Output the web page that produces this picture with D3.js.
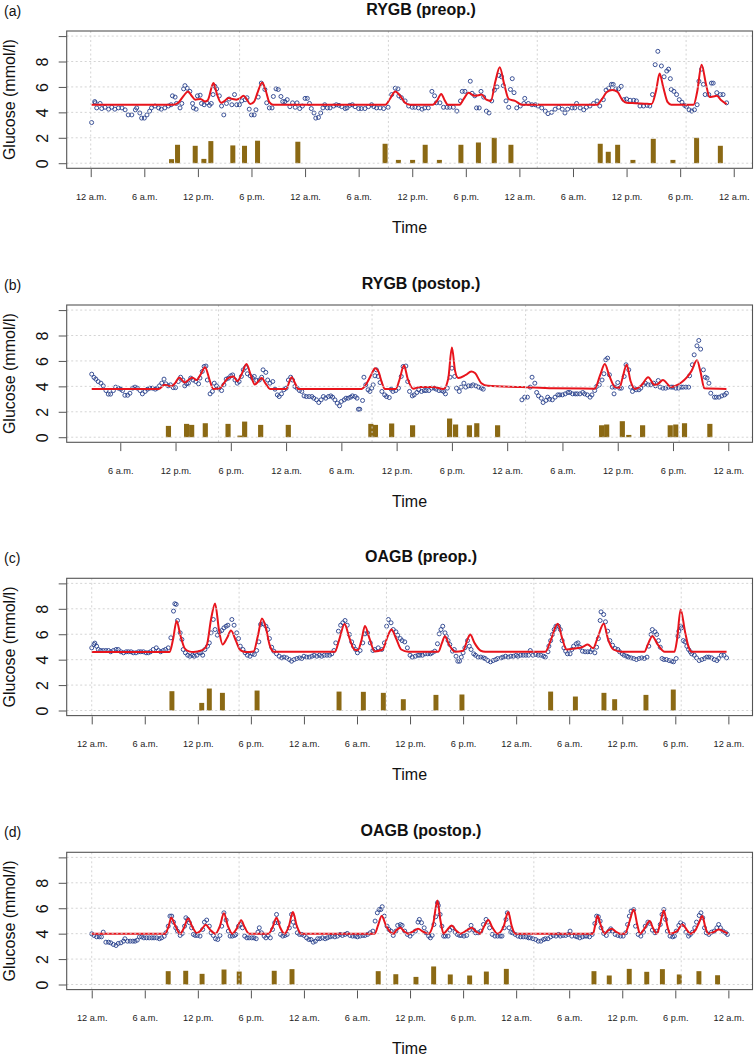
<!DOCTYPE html>
<html><head><meta charset="utf-8">
<script src="https://cdn.jsdelivr.net/npm/d3@7"></script>
<style>
body{margin:0;background:#fff;}
svg{display:block;font-family:"Liberation Sans",Arial,Helvetica,sans-serif;}
</style>
</head><body>
<svg id="chart" width="755" height="1056"></svg>
<script>
// ---------------- DATA ----------------
const panelLabels = ["(a)", "(b)", "(c)", "(d)"];
const panelTitles = ["RYGB (preop.)", "RYGB (postop.)", "OAGB (preop.)", "OAGB (postop.)"];
const tickText = ["12 a.m.", "6 a.m.", "12 p.m.", "6 p.m."];
const ticksFull = [0, 6, 12, 18, 24, 30, 36, 42, 48, 54, 60, 66, 72];
const ticksLate = [6, 12, 18, 24, 30, 36, 42, 48, 54, 60, 66, 72];
const yTicks = [0, 2, 4, 6, 8, 10];
const gridHours = [0, 16.667, 33.333, 50, 66.667];

// glucose readings [hour, mmol/l]
const glucoseA = [[0.1,3.2],[0.45,4.85],[0.5,4.75],[0.67,4.35],[1.05,4.7],[1.23,4.3],[1.6,4.4],[2.0,4.25],[2.35,4.4],[2.7,4.25],[3.1,4.35],[3.5,4.35],[3.85,4.2],[4.2,3.8],[4.6,3.8],[5.0,4.2],[5.15,4.35],[5.5,3.95],[5.7,3.55],[6.0,3.55],[6.3,3.8],[6.6,4.1],[6.8,4.35],[7.2,4.5],[7.6,4.35],[7.9,4.25],[8.3,4.35],[8.7,4.5],[9.0,4.6],[9.15,5.3],[9.45,5.2],[9.6,4.7],[10.0,4.35],[10.2,4.7],[10.4,5.85],[10.55,6.1],[10.8,5.9],[11.1,5.65],[11.4,4.7],[11.5,4.35],[11.8,4.25],[11.95,5.3],[12.25,5.35],[12.4,4.7],[12.7,4.6],[13.0,4.75],[13.3,4.55],[13.5,4.7],[13.7,5.4],[13.9,6.05],[14.1,5.85],[14.4,5.3],[14.65,4.5],[14.9,3.8],[15.2,4.7],[15.5,5.05],[15.8,4.6],[16.1,5.4],[16.35,4.6],[16.65,4.6],[16.9,4.9],[17.3,5.0],[17.5,5.15],[17.75,4.25],[18.0,3.8],[18.3,3.8],[18.5,4.2],[18.75,5.2],[19.1,6.3],[19.5,5.8],[19.7,4.75],[20.0,4.35],[20.3,4.35],[20.45,5.25],[20.75,5.85],[21.0,5.8],[21.3,5.25],[21.5,4.85],[21.75,4.85],[22.0,5.0],[22.3,4.45],[22.6,4.75],[22.9,4.4],[23.1,4.75],[23.4,4.3],[23.7,4.5],[24.0,5.1],[24.25,5.1],[24.5,4.7],[24.7,4.3],[25.0,3.95],[25.2,3.55],[25.5,3.6],[25.75,3.95],[26.0,4.35],[26.2,4.6],[26.5,4.35],[26.8,4.35],[27.2,4.5],[27.5,4.6],[27.8,4.55],[28.1,4.45],[28.5,4.3],[28.7,4.35],[29.0,4.55],[29.3,4.6],[29.6,4.45],[30.0,4.3],[30.3,4.3],[30.7,4.3],[31.1,4.45],[31.45,4.6],[31.7,4.45],[32.0,4.35],[32.4,4.35],[32.8,4.3],[33.3,4.4],[33.7,5.4],[34.1,5.9],[34.4,5.85],[34.5,5.3],[34.8,5.15],[35.2,4.9],[35.6,4.5],[36.0,4.4],[36.3,4.4],[36.7,4.35],[37.1,4.25],[37.4,4.35],[37.8,4.35],[38.2,5.65],[38.5,5.3],[38.7,4.75],[39.1,4.75],[39.5,4.4],[39.9,4.4],[40.2,4.4],[40.6,4.4],[41.0,4.1],[41.4,4.9],[41.6,5.65],[41.9,5.65],[42.5,6.45],[42.7,5.5],[43.0,5.3],[43.2,4.35],[43.5,4.35],[43.7,5.65],[44.0,5.2],[44.3,4.1],[44.6,3.95],[44.9,4.9],[45.2,5.75],[45.5,6.0],[45.7,6.9],[46.0,6.8],[46.2,6.1],[46.5,4.9],[46.8,4.4],[47.0,5.8],[47.2,6.65],[47.4,5.55],[47.7,4.35],[48.1,4.5],[48.5,4.7],[48.6,5.1],[49.0,4.7],[49.4,4.6],[49.8,4.6],[50.1,4.5],[50.5,4.35],[50.9,4.1],[51.2,3.9],[51.6,4.0],[52.0,4.25],[52.4,4.4],[52.8,4.25],[53.1,3.95],[53.4,4.25],[53.9,4.35],[54.2,4.35],[54.4,4.7],[54.8,4.35],[55.2,4.2],[55.5,4.4],[55.9,4.5],[56.3,4.7],[56.7,4.9],[57.0,4.5],[57.4,5.0],[57.7,5.75],[58.0,5.9],[58.3,6.2],[58.5,6.2],[58.8,5.85],[59.1,5.85],[59.4,6.05],[59.7,5.0],[60.0,5.05],[60.4,4.95],[60.8,4.95],[61.1,4.9],[61.5,4.5],[61.9,4.5],[62.3,4.55],[62.6,4.5],[62.9,5.4],[63.2,7.75],[63.5,8.8],[63.9,7.65],[64.2,6.8],[64.5,7.25],[64.7,7.4],[64.9,6.65],[65.0,5.8],[65.3,5.65],[65.6,5.4],[65.9,5.0],[66.2,4.8],[66.5,4.55],[66.7,4.45],[67.0,4.2],[67.3,4.1],[67.6,4.2],[67.9,4.6],[68.1,6.45],[68.4,7.4],[68.6,6.2],[68.8,5.4],[69.2,5.4],[69.5,6.3],[69.7,6.3],[70.1,5.55],[70.5,5.4],[70.8,5.4],[71.2,4.75]];
const glucoseB = [[2.9,4.96],[3.15,4.7],[3.35,4.57],[3.6,4.38],[3.9,4.25],[4.15,4.04],[4.45,3.67],[4.7,3.39],[4.95,3.39],[5.25,3.67],[5.5,3.94],[5.8,3.86],[6.05,3.78],[6.25,3.67],[6.5,3.3],[6.8,3.3],[7.05,3.46],[7.35,3.86],[7.6,3.94],[7.85,3.86],[8.15,3.67],[8.4,3.41],[8.7,3.6],[8.95,3.78],[9.2,3.86],[9.5,3.86],[9.8,3.78],[10.0,3.86],[10.25,4.04],[10.5,4.25],[10.75,4.57],[10.95,4.2],[11.2,4.04],[11.45,4.12],[11.75,3.9],[12.0,3.9],[12.3,4.38],[12.55,4.72],[12.8,4.5],[13.0,4.04],[13.2,4.2],[13.4,4.25],[13.65,4.65],[13.9,4.5],[14.2,4.38],[14.5,4.2],[14.65,4.65],[14.9,5.17],[15.1,5.56],[15.3,5.6],[15.45,4.5],[15.75,3.41],[16.0,3.6],[16.2,4.25],[16.45,4.04],[16.7,3.86],[17.0,3.67],[17.25,4.12],[17.5,4.57],[17.75,4.65],[18.0,4.83],[18.2,4.9],[18.45,4.5],[18.7,4.25],[18.9,4.38],[19.15,4.78],[19.35,5.3],[19.6,5.49],[19.8,4.99],[20.1,4.83],[20.35,4.65],[20.55,4.78],[20.8,4.46],[21.1,4.5],[21.35,4.72],[21.5,5.3],[21.8,5.1],[22.0,4.5],[22.25,4.25],[22.55,4.38],[22.8,3.78],[23.05,3.33],[23.25,3.2],[23.5,3.41],[23.75,3.73],[24.0,3.86],[24.25,4.5],[24.5,4.72],[24.7,4.5],[24.95,3.99],[25.2,3.86],[25.45,3.67],[25.7,3.6],[25.95,3.25],[26.2,3.2],[26.5,3.2],[26.8,3.2],[27.0,3.07],[27.3,2.94],[27.55,2.73],[27.8,2.94],[28.05,3.2],[28.3,3.07],[28.6,3.2],[28.85,3.25],[29.05,3.15],[29.3,2.94],[29.55,2.68],[29.8,2.47],[30.0,2.81],[30.3,2.94],[30.5,3.07],[30.75,3.07],[31.0,3.15],[31.2,3.25],[31.5,3.2],[31.7,3.07],[31.85,2.2],[32.0,2.2],[32.3,2.89],[32.45,4.72],[32.65,4.12],[32.9,3.73],[33.1,3.6],[33.3,3.86],[33.45,4.12],[33.65,4.83],[33.8,5.3],[34.0,4.78],[34.2,4.3],[34.4,3.6],[34.7,3.33],[34.9,3.2],[35.2,3.12],[35.4,3.78],[35.6,3.6],[35.9,3.67],[36.2,3.86],[36.5,4.78],[36.7,5.56],[37.0,5.6],[37.2,4.38],[37.4,3.6],[37.7,3.25],[37.9,3.33],[38.2,3.52],[38.4,3.73],[38.7,3.6],[39.0,3.67],[39.2,3.67],[39.5,3.67],[39.8,3.86],[40.1,3.86],[40.3,3.78],[40.6,3.67],[40.9,3.67],[41.1,3.6],[41.3,3.41],[41.5,3.86],[41.8,4.72],[42.0,5.43],[42.3,4.78],[42.5,3.86],[42.8,3.6],[43.0,3.94],[43.3,4.25],[43.5,3.94],[43.8,4.04],[44.1,4.04],[44.3,4.12],[44.6,4.04],[44.9,3.94],[45.2,3.86],[45.4,3.78],[49.6,2.94],[49.9,3.15],[50.2,3.15],[50.5,3.94],[50.7,4.72],[51.0,4.25],[51.2,3.52],[51.4,3.25],[51.7,3.07],[51.9,2.73],[52.2,2.89],[52.4,3.15],[52.6,2.99],[52.9,2.94],[53.2,3.15],[53.5,3.33],[53.7,3.33],[54.0,3.33],[54.3,3.41],[54.6,3.52],[54.8,3.52],[55.1,3.41],[55.4,3.41],[55.6,3.41],[55.9,3.41],[56.2,3.52],[56.4,3.41],[56.7,3.33],[57.0,3.15],[57.2,3.33],[57.5,3.67],[57.7,3.99],[58.0,4.12],[58.3,4.5],[58.5,4.99],[58.7,6.09],[58.9,6.22],[59.1,4.91],[59.4,3.94],[59.6,3.41],[59.7,3.94],[60.0,4.3],[60.2,3.86],[60.4,3.86],[60.7,4.78],[60.9,5.7],[61.2,5.3],[61.4,3.94],[61.6,3.6],[61.8,3.86],[62.0,3.73],[62.3,3.73],[62.5,3.86],[62.8,4.12],[63.0,4.25],[63.3,4.12],[63.6,4.12],[63.9,4.25],[64.1,4.04],[64.4,4.46],[64.6,3.94],[64.9,3.86],[65.2,3.86],[65.5,3.94],[65.8,3.94],[66.0,3.94],[66.3,3.86],[66.6,3.86],[66.9,3.94],[67.1,3.94],[67.4,3.94],[67.7,3.94],[67.8,4.83],[68.1,5.7],[68.3,6.48],[68.6,7.19],[68.8,7.61],[69.0,6.93],[69.3,5.3],[69.5,4.72],[69.7,4.65],[69.9,4.25],[70.1,3.46],[70.5,3.15],[70.7,3.15],[71.0,3.15],[71.3,3.25],[71.6,3.33],[71.8,3.46]];
const glucoseC = [[0,4.93],[0.25,5.19],[0.35,5.3],[0.55,5.06],[0.75,4.8],[1.0,4.72],[1.3,4.72],[1.6,4.72],[1.9,4.72],[2.15,4.62],[2.45,4.72],[2.75,4.8],[3.0,4.8],[3.3,4.62],[3.6,4.54],[3.9,4.62],[4.15,4.62],[4.45,4.62],[4.7,4.54],[5.0,4.54],[5.3,4.62],[5.55,4.62],[5.85,4.62],[6.15,4.54],[6.4,4.54],[6.65,4.62],[6.95,4.8],[7.3,4.93],[7.55,4.72],[7.8,4.62],[8.1,4.72],[8.35,4.8],[8.65,4.93],[8.95,5.72],[9.25,7.82],[9.4,8.4],[9.55,8.35],[9.7,7.08],[10.0,6.11],[10.2,5.59],[10.35,4.8],[10.6,4.54],[10.85,4.35],[11.1,4.27],[11.4,4.35],[11.6,4.27],[11.9,4.35],[12.15,4.54],[12.35,4.54],[12.55,4.35],[12.8,4.8],[13.1,5.06],[13.3,5.32],[13.5,6.11],[13.75,7.16],[13.95,6.37],[14.2,5.93],[14.45,6.19],[14.7,6.29],[14.95,6.5],[15.2,6.63],[15.4,6.71],[15.85,7.16],[16.1,6.71],[16.4,6.11],[16.6,5.66],[16.8,5.06],[17.1,4.8],[17.35,4.54],[17.6,4.35],[17.9,4.27],[18.15,4.46],[18.4,4.41],[18.65,4.72],[18.9,5.4],[19.1,6.77],[19.4,6.82],[19.7,6.63],[19.9,6.37],[20.1,5.66],[20.35,4.98],[20.6,4.67],[20.9,4.46],[21.2,4.27],[21.5,4.14],[21.75,4.2],[22.05,4.14],[22.35,4.01],[22.6,3.88],[22.9,4.01],[23.2,4.09],[23.5,4.14],[23.75,4.09],[24.0,4.27],[24.3,4.2],[24.6,4.2],[24.9,4.27],[25.15,4.35],[25.45,4.27],[25.75,4.35],[26.0,4.27],[26.3,4.35],[26.6,4.35],[26.9,4.35],[27.15,4.46],[27.4,4.72],[27.6,5.32],[27.9,6.24],[28.15,6.71],[28.4,6.9],[28.65,7.08],[28.9,6.71],[29.15,5.98],[29.4,5.4],[29.6,5.06],[29.85,4.8],[30.05,4.54],[30.35,4.72],[30.65,5.32],[30.9,6.03],[31.2,6.1],[31.5,5.32],[31.8,4.72],[32.0,4.8],[32.4,4.93],[32.8,4.8],[33.1,5.32],[33.35,6.63],[33.55,7.16],[33.85,6.9],[34.1,6.37],[34.4,6.19],[34.6,5.93],[34.9,5.66],[35.1,5.5],[35.4,5.4],[35.7,4.93],[36.0,4.35],[36.25,4.2],[36.6,4.27],[36.9,4.35],[37.1,4.35],[37.4,4.35],[37.7,4.46],[38.0,4.46],[38.3,4.46],[38.5,4.54],[38.8,4.67],[39.1,5.25],[39.3,6.03],[39.5,6.37],[39.7,6.63],[39.95,6.11],[40.1,5.85],[40.3,5.5],[40.5,5.19],[40.8,4.67],[41.0,4.8],[41.2,4.27],[41.4,3.88],[41.6,3.88],[41.8,4.2],[42.0,4.54],[42.2,4.93],[42.5,5.5],[42.7,5.06],[42.9,4.8],[43.2,4.46],[43.4,4.35],[43.7,4.2],[44.0,4.2],[44.3,4.14],[44.5,4.09],[44.8,3.93],[45.1,3.83],[45.4,3.93],[45.7,4.01],[45.9,4.09],[46.3,4.14],[46.5,4.2],[46.8,4.27],[47.1,4.2],[47.4,4.27],[47.7,4.27],[48.0,4.35],[48.2,4.27],[48.5,4.35],[48.8,4.35],[49.1,4.35],[49.4,4.35],[49.6,4.72],[49.9,4.35],[50.2,4.41],[50.5,4.35],[50.8,4.35],[51.1,4.27],[51.3,4.2],[51.6,4.62],[51.7,5.06],[51.9,5.5],[52.1,5.98],[52.3,6.37],[52.5,6.63],[52.8,6.63],[53.0,6.37],[53.2,5.5],[53.4,4.93],[53.6,4.67],[53.8,4.46],[54.1,4.46],[54.3,4.8],[54.5,5.06],[54.8,5.25],[55.0,5.32],[55.2,4.98],[55.5,4.67],[55.8,4.62],[56.1,4.62],[56.4,4.62],[56.6,4.8],[56.9,4.54],[57.1,4.98],[57.3,5.66],[57.5,7.08],[57.6,7.76],[57.9,7.55],[58.1,6.98],[58.35,6.24],[58.6,5.5],[58.9,5.14],[59.2,4.88],[59.5,4.8],[59.7,4.62],[60.0,4.46],[60.2,4.35],[60.5,4.27],[60.7,4.2],[61.0,4.14],[61.3,4.09],[61.6,4.01],[61.9,4.09],[62.2,4.14],[62.5,4.09],[62.8,4.2],[63.0,5.06],[63.25,5.98],[63.4,6.37],[63.7,6.19],[63.9,5.98],[64.1,5.5],[64.3,4.98],[64.5,4.09],[64.7,4.01],[65.0,4.01],[65.3,3.93],[65.6,3.88],[65.8,3.83],[66.1,4.09],[66.3,5.85],[66.4,6.24],[66.6,6.63],[66.7,6.5],[66.9,5.5],[67.1,5.4],[67.3,5.06],[67.5,4.8],[67.7,4.62],[67.85,4.46],[68.15,4.35],[68.4,4.14],[68.7,3.93],[69.0,4.01],[69.3,4.09],[69.55,4.2],[69.8,4.2],[70.1,4.14],[70.4,4.01],[70.7,3.93],[70.9,4.09],[71.2,4.35],[71.5,4.35],[71.8,4.14]];
const glucoseD = [[0,3.99],[0.25,3.86],[0.55,3.75],[0.85,3.75],[1.1,3.75],[1.3,4.12],[1.6,3.33],[1.9,3.33],[2.15,3.28],[2.45,3.15],[2.75,3.07],[3.0,3.23],[3.3,3.28],[3.6,3.41],[3.75,3.6],[4.05,3.41],[4.35,3.41],[4.65,3.41],[4.9,3.41],[5.15,3.49],[5.4,3.75],[5.65,3.75],[5.9,3.67],[6.2,3.67],[6.5,3.67],[6.8,3.67],[7.05,3.67],[7.35,3.67],[7.65,3.6],[7.9,3.67],[8.2,3.8],[8.4,4.07],[8.65,4.59],[8.85,5.38],[9.05,5.38],[9.25,4.91],[9.5,4.46],[9.7,4.2],[10.0,3.86],[10.25,4.02],[10.5,4.59],[10.65,5.25],[10.85,5.12],[11.05,4.86],[11.3,4.46],[11.5,3.94],[11.7,3.86],[11.95,3.86],[12.25,3.81],[12.55,4.33],[12.75,4.91],[13.0,5.07],[13.3,4.59],[13.5,4.07],[13.75,3.86],[14.0,3.6],[14.25,3.54],[14.5,3.86],[14.7,4.59],[14.95,5.64],[15.2,5.07],[15.45,4.2],[15.65,3.81],[15.9,3.81],[16.15,3.86],[16.3,3.94],[16.6,4.59],[16.8,4.72],[17.05,4.46],[17.3,3.81],[17.55,3.67],[17.8,3.67],[18.1,3.67],[18.35,3.67],[18.6,3.6],[18.8,4.12],[18.95,4.46],[19.2,4.07],[19.5,3.81],[19.7,3.67],[19.95,3.86],[20.2,3.67],[20.45,4.33],[20.7,4.86],[20.9,5.51],[21.1,4.86],[21.35,3.94],[21.6,3.81],[21.85,3.86],[22.1,3.94],[22.35,4.46],[22.6,5.51],[22.8,4.91],[23.0,4.59],[23.25,4.07],[23.5,3.94],[23.75,3.94],[24.0,3.86],[24.3,3.67],[24.55,3.54],[24.8,3.54],[25.05,3.33],[25.3,3.41],[25.55,3.6],[25.8,3.6],[26.1,3.67],[26.4,3.6],[26.65,3.67],[26.95,3.75],[27.2,3.81],[27.5,3.75],[27.8,3.81],[28.1,3.94],[28.35,3.86],[28.65,3.94],[28.9,4.02],[29.2,3.86],[29.5,3.81],[29.8,3.81],[30.05,3.75],[30.35,3.81],[30.65,3.86],[30.9,3.86],[31.2,3.94],[31.5,4.07],[31.8,4.2],[32.05,4.99],[32.3,5.64],[32.5,5.9],[32.7,5.9],[32.85,6.12],[33.1,5.38],[33.4,4.59],[33.6,4.33],[33.85,4.2],[34.1,3.86],[34.4,4.2],[34.6,4.65],[34.9,4.72],[35.1,4.65],[35.4,4.2],[35.7,3.94],[36.0,3.81],[36.25,4.02],[36.6,4.2],[36.9,4.91],[37.05,5.12],[37.3,4.86],[37.6,4.46],[37.8,4.07],[38.1,3.81],[38.3,3.67],[38.5,3.86],[38.7,4.72],[38.9,5.33],[39.1,6.43],[39.2,6.22],[39.4,5.51],[39.6,4.59],[39.8,3.81],[40.0,3.81],[40.3,3.81],[40.5,4.28],[40.8,4.46],[41.1,4.12],[41.35,3.94],[41.6,3.86],[41.8,3.86],[42.1,3.81],[42.4,3.86],[42.7,4.28],[42.9,4.65],[43.2,4.28],[43.4,4.07],[43.7,4.07],[44.0,4.2],[44.3,4.72],[44.6,5.12],[44.8,4.91],[45.0,4.46],[45.3,3.94],[45.6,3.81],[45.9,3.81],[46.2,3.81],[46.4,3.81],[46.65,4.46],[46.85,5.12],[47.0,5.64],[47.2,4.46],[47.4,4.12],[47.6,4.07],[47.9,3.94],[48.2,3.81],[48.5,3.75],[48.8,3.75],[49.1,3.75],[49.4,3.67],[49.6,3.67],[49.9,3.6],[50.2,3.54],[50.5,3.41],[50.8,3.41],[51.1,3.54],[51.3,3.6],[51.6,3.6],[51.9,3.75],[52.2,3.86],[52.5,3.81],[52.8,3.94],[53.0,3.81],[53.3,3.86],[53.6,3.86],[53.9,3.94],[54.1,4.2],[54.3,3.81],[54.7,3.81],[54.9,3.75],[55.2,3.67],[55.5,3.75],[55.8,3.81],[56.0,3.81],[56.3,3.75],[56.6,3.94],[56.9,4.8],[57.1,5.38],[57.3,5.33],[57.5,4.99],[57.6,4.46],[57.9,4.02],[58.2,3.86],[58.5,4.2],[58.7,4.38],[58.9,4.2],[59.2,3.94],[59.5,3.86],[59.8,3.81],[60.1,3.81],[60.4,4.07],[60.6,4.72],[60.8,5.38],[61.0,5.77],[61.3,5.9],[61.5,4.59],[61.8,3.94],[62.1,3.81],[62.4,4.12],[62.6,4.59],[62.9,4.91],[63.1,4.81],[63.4,4.28],[63.7,4.07],[63.9,4.2],[64.3,4.72],[64.5,5.51],[64.7,5.9],[64.9,5.12],[65.1,4.2],[65.4,3.81],[65.7,3.75],[65.9,3.81],[66.1,4.2],[66.4,4.65],[66.6,4.86],[66.9,4.72],[67.2,4.12],[67.5,3.81],[67.7,3.94],[67.95,4.12],[68.2,4.46],[68.4,4.91],[68.7,5.43],[68.9,5.64],[69.1,5.25],[69.3,4.46],[69.5,4.07],[69.8,3.94],[70.1,4.12],[70.4,4.2],[70.7,4.46],[70.9,4.72],[71.1,4.46],[71.4,4.2],[71.7,4.07],[71.9,3.94]];

// model fit (red line) [hour, mmol/l]
const fitA = [[0.1,4.6],[9.3,4.6],[9.8,4.75],[10.4,5.3],[10.9,5.65],[11.3,5.3],[11.7,5.0],[12.3,5.05],[12.8,4.85],[13.1,4.95],[13.75,6.3],[14.15,5.4],[14.6,4.75],[15.0,4.9],[15.4,5.12],[15.9,5.05],[16.3,5.0],[16.7,5.1],[17.1,5.3],[17.5,5.0],[17.85,4.65],[18.3,4.85],[18.7,5.6],[19.2,6.35],[19.6,5.7],[20.0,4.8],[20.4,4.6],[33.0,4.6],[33.5,5.05],[34.1,5.65],[34.7,5.25],[35.2,4.75],[35.7,4.6],[38.3,4.6],[38.8,4.95],[39.25,5.45],[39.6,5.0],[40.0,4.6],[41.3,4.6],[41.8,5.1],[42.3,5.55],[42.7,5.4],[43.0,5.3],[43.4,5.35],[43.75,5.4],[44.3,5.0],[44.8,4.9],[45.3,6.4],[45.8,7.55],[46.3,6.2],[46.8,5.05],[47.5,4.9],[48.3,4.6],[56.7,4.6],[57.2,5.0],[57.8,5.6],[58.4,5.75],[59.0,5.6],[59.5,5.0],[60.0,4.75],[61.0,4.72],[62.0,4.68],[62.8,4.65],[63.3,5.7],[63.7,7.05],[64.1,6.0],[64.6,4.8],[65.0,4.6],[67.5,4.6],[67.9,5.6],[68.4,7.75],[68.9,6.2],[69.3,5.2],[69.7,5.25],[70.1,5.3],[70.6,4.95],[71.2,4.65]];
const fitB = [[2.9,3.8],[10.2,3.8],[10.8,4.12],[11.5,4.0],[12.0,4.3],[12.4,4.7],[13.0,4.3],[13.4,4.5],[13.8,4.7],[14.3,4.5],[14.7,4.9],[15.2,5.5],[15.7,4.5],[16.1,3.8],[16.8,3.85],[17.3,4.3],[17.7,4.65],[18.3,4.78],[18.7,4.4],[19.2,5.0],[19.7,5.75],[20.2,4.8],[20.6,4.15],[21.0,4.4],[21.35,4.65],[21.8,4.2],[22.25,3.8],[24.0,3.8],[24.6,4.72],[25.0,4.2],[25.3,3.8],[32.2,3.8],[32.8,4.3],[33.3,5.0],[33.65,5.43],[34.0,5.2],[34.4,4.3],[34.7,3.8],[35.9,3.8],[36.3,4.5],[36.8,5.64],[37.2,4.6],[37.8,3.82],[38.5,3.95],[40.0,3.95],[41.1,3.8],[41.6,4.6],[42.0,7.06],[42.35,5.2],[42.7,4.65],[43.5,4.9],[44.1,5.17],[44.5,5.05],[45.2,4.25],[45.9,4.04],[49.6,3.95],[53.0,3.85],[57.5,3.82],[58.1,4.9],[58.6,5.75],[59.1,4.8],[59.7,3.95],[60.2,3.9],[60.5,4.6],[60.97,5.7],[61.4,4.4],[61.9,3.8],[62.6,4.1],[63.3,4.72],[64.0,4.12],[64.4,4.2],[64.9,4.5],[65.8,3.95],[66.3,4.05],[66.9,4.3],[67.5,4.7],[68.0,5.2],[68.6,6.05],[69.0,5.1],[69.4,3.85],[71.8,3.8]];
const fitC = [[0,4.6],[8.8,4.6],[9.2,5.6],[9.6,7.05],[10.0,6.0],[10.5,4.9],[11.0,4.65],[11.5,4.6],[12.5,4.75],[13.0,5.1],[13.5,7.2],[13.95,8.42],[14.4,6.3],[14.8,5.2],[15.3,5.7],[15.75,6.29],[16.3,5.5],[16.8,4.75],[17.4,4.6],[18.3,4.65],[18.8,5.9],[19.25,7.24],[19.7,6.5],[20.1,5.2],[20.6,4.62],[27.5,4.62],[28.0,5.6],[28.6,6.8],[29.1,5.8],[29.7,4.8],[30.1,4.75],[30.5,5.5],[30.9,6.65],[31.4,5.7],[32.0,4.65],[32.9,4.8],[33.5,5.9],[33.9,6.37],[34.4,5.7],[35.0,4.8],[35.8,4.62],[39.2,4.62],[39.6,5.3],[39.95,5.85],[40.4,5.2],[41.1,4.62],[42.0,4.7],[42.5,5.6],[42.8,5.98],[43.3,5.3],[44.0,4.7],[44.5,4.62],[51.3,4.62],[51.9,5.5],[52.7,6.82],[53.2,5.7],[53.7,4.8],[54.6,4.88],[55.5,5.0],[56.1,5.19],[56.7,4.9],[57.2,5.7],[57.9,6.82],[58.4,5.6],[59.0,4.8],[59.9,4.62],[62.5,4.62],[62.9,5.2],[63.4,5.85],[64.0,5.2],[64.8,4.62],[65.9,4.62],[66.2,5.6],[66.6,7.95],[67.1,6.2],[67.5,5.0],[67.85,4.62],[71.8,4.62]];
const fitD = [[0,4.0],[8.3,4.0],[8.7,4.6],[9.0,5.25],[9.4,4.7],[10.0,4.0],[10.4,4.4],[10.9,5.2],[11.4,4.5],[11.9,4.05],[12.4,4.3],[12.9,4.7],[13.4,4.3],[14.0,4.0],[14.5,4.6],[14.95,5.6],[15.4,4.6],[15.9,4.0],[16.4,4.4],[16.9,5.05],[17.3,4.5],[17.8,4.0],[20.0,4.0],[20.45,4.5],[20.9,5.25],[21.3,4.5],[21.8,4.0],[22.3,4.6],[22.75,5.7],[23.2,4.6],[23.7,4.0],[32.0,4.0],[32.4,4.7],[32.8,5.38],[33.3,4.6],[34.1,4.0],[34.5,4.3],[34.9,4.46],[35.3,4.2],[35.8,4.0],[36.4,4.2],[36.9,4.38],[37.5,4.15],[38.1,4.0],[38.6,4.7],[39.1,6.6],[39.45,5.0],[39.8,4.0],[40.2,4.3],[40.7,4.65],[41.2,4.25],[41.7,4.0],[42.4,4.25],[42.97,4.46],[43.4,4.2],[43.9,4.0],[44.4,4.6],[44.85,5.07],[45.3,4.5],[45.9,4.0],[46.6,4.6],[47.1,5.7],[47.5,4.6],[47.9,4.0],[56.7,4.0],[56.95,4.7],[57.2,5.38],[57.6,4.6],[58.0,4.0],[58.4,4.25],[58.8,4.38],[59.3,4.15],[59.8,4.0],[60.3,4.0],[60.8,4.9],[61.3,5.9],[61.7,4.7],[62.0,4.0],[62.6,4.5],[63.1,4.99],[63.5,4.4],[63.9,4.0],[64.3,4.8],[64.7,5.83],[65.1,4.6],[65.4,4.0],[66.2,4.2],[66.8,4.72],[67.3,4.3],[67.7,4.0],[68.3,4.3],[68.7,4.9],[69.05,5.38],[69.4,4.5],[69.7,4.0],[70.4,4.15],[70.9,4.33],[71.4,4.2],[71.9,4.0]];

// meals (bars) [hour, amount]
const mealsA = [[9.05,0.32],[9.72,1.45],[11.7,1.37],[12.67,0.34],[13.45,1.74],[15.91,1.4],[17.22,1.37],[18.68,1.77],[23.19,1.69],[32.96,1.53],[34.45,0.26],[36.04,0.26],[37.45,1.45],[39.04,0.26],[41.45,1.45],[43.41,1.63],[45.18,2.0],[47.05,1.45],[57.05,1.53],[57.95,0.9],[59.0,1.45],[60.71,0.26],[62.99,1.92],[65.19,0.26],[67.84,2.0],[70.5,1.37]];
const mealsB = [[11.23,0.89],[13.2,1.05],[13.75,0.97],[15.23,1.1],[17.7,1.05],[19.0,0.13],[19.5,1.23],[21.24,0.97],[24.24,0.97],[33.2,1.05],[33.7,0.97],[35.46,1.08],[37.73,0.94],[41.75,1.47],[42.4,1.0],[43.9,0.94],[44.7,1.1],[46.96,0.94],[58.25,0.94],[58.8,1.0],[60.5,1.26],[61.2,0.18],[62.7,0.94],[65.7,0.94],[66.3,1.0],[67.25,1.1],[70.0,1.05]];
const mealsC = [[9.07,1.52],[12.44,0.6],[13.3,1.73],[14.78,1.39],[18.7,1.57],[27.97,1.49],[30.72,1.47],[32.98,1.39],[35.24,0.89],[38.93,1.23],[41.87,1.26],[51.9,1.49],[54.7,1.1],[57.93,1.39],[59.14,0.89],[62.68,1.23],[65.77,1.65]];
const mealsD = [[8.65,1.05],[10.63,1.08],[12.48,0.84],[14.96,1.18],[16.68,1.02],[20.64,1.08],[22.65,1.21],[32.4,1.05],[34.39,0.81],[36.67,0.6],[38.67,1.42],[40.55,0.79],[42.74,0.71],[44.63,1.02],[46.89,1.23],[56.8,1.05],[58.53,0.71],[60.79,1.23],[62.77,1.0],[64.54,1.21],[66.45,0.79],[68.67,1.05],[70.78,0.73]];

// ---------------- DRAWING ----------------
const svg = d3.select("#chart");
const boxL = 66.7, boxR = 752.5, boxH = 137.3;
const barW = 0.56; // hours
const colPoint = "#27408b", colFit = "#e8141c", colBar = "#8b6914";

const panels = [
  {label: panelLabels[0], title: panelTitles[0], top: 31,    dom: [-2.69, 74.10], ticks: ticksFull, pts: glucoseA, fit: fitA, meals: mealsA},
  {label: panelLabels[1], title: panelTitles[1], top: 305,   dom: [0.185, 74.63], ticks: ticksLate, pts: glucoseB, fit: fitB, meals: mealsB},
  {label: panelLabels[2], title: panelTitles[2], top: 578.3, dom: [-2.83, 74.73], ticks: ticksFull, pts: glucoseC, fit: fitC, meals: mealsC},
  {label: panelLabels[3], title: panelTitles[3], top: 852.3, dom: [-2.83, 74.73], ticks: ticksFull, pts: glucoseD, fit: fitD, meals: mealsD}
];

panels.forEach(p => {
  const g = svg.append("g");
  const bottom = p.top + boxH;
  const x = d3.scaleLinear().domain(p.dom).range([boxL, boxR]);
  const y = d3.scaleLinear().domain([-0.4, 10.4]).range([bottom, p.top]);

  // bars
  g.append("g").selectAll("rect").data(p.meals).join("rect")
    .attr("x", d => x(d[0] - barW / 2))
    .attr("width", d => x(d[0] + barW / 2) - x(d[0] - barW / 2))
    .attr("y", d => y(d[1]))
    .attr("height", d => y(0) - y(d[1]))
    .attr("fill", colBar);

  // points
  g.append("g").selectAll("circle").data(p.pts).join("circle")
    .attr("cx", d => x(d[0])).attr("cy", d => y(d[1])).attr("r", 2.0)
    .attr("fill", "none").attr("stroke", colPoint).attr("stroke-width", 0.9);

  // fitted line
  const line = d3.line().x(d => x(d[0])).y(d => y(d[1])).curve(d3.curveMonotoneX);
  g.append("path").datum(p.fit).attr("d", line)
    .attr("fill", "none").attr("stroke", colFit).attr("stroke-width", 2)
    .attr("stroke-linejoin", "round");

  // grid (drawn on top, dotted light gray)
  const grid = g.append("g").attr("stroke", "#cfcfcf").attr("stroke-width", 0.9).attr("stroke-dasharray", "2,2.5");
  grid.selectAll("line.h").data(yTicks).join("line").attr("class", "h")
    .attr("x1", boxL).attr("x2", boxR).attr("y1", d => y(d)).attr("y2", d => y(d));
  grid.selectAll("line.v").data(gridHours.filter(h => h > p.dom[0] && h < p.dom[1])).join("line").attr("class", "v")
    .attr("x1", d => x(d)).attr("x2", d => x(d)).attr("y1", p.top).attr("y2", bottom);

  // box
  g.append("rect").attr("x", boxL).attr("y", p.top).attr("width", boxR - boxL).attr("height", boxH)
    .attr("fill", "none").attr("stroke", "#555").attr("stroke-width", 1.1);

  // y axis
  const ya = g.append("g").attr("transform", `translate(${boxL},0)`)
    .call(d3.axisLeft(y).tickValues(yTicks).tickSize(8).tickSizeOuter(0).tickFormat(d => d === 10 ? "" : d));
  ya.select(".domain").remove();
  ya.selectAll("line").attr("stroke", "#555");
  ya.selectAll("text").attr("transform", "rotate(-90)").attr("x", 0).attr("y", -19).attr("dy", 0)
    .attr("text-anchor", "middle").attr("font-size", 16).attr("fill", "#111")
    .attr("font-family", '"Liberation Sans",Arial,Helvetica,sans-serif');

  // x axis
  const xa = g.append("g").attr("transform", `translate(0,${bottom + 0.8})`)
    .call(d3.axisBottom(x).tickValues(p.ticks).tickSize(8).tickSizeOuter(0).tickFormat(d => tickText[(d / 6) % 4]));
  xa.select(".domain").remove();
  xa.selectAll("line").attr("stroke", "#555");
  xa.selectAll("text").attr("y", 30.5).attr("dy", 0).attr("font-size", 9.2).attr("fill", "#222")
    .attr("font-family", '"Liberation Sans",Arial,Helvetica,sans-serif');

  // labels
  g.append("text").attr("x", (boxL + boxR) / 2).attr("y", bottom + 64.5).attr("text-anchor", "middle")
    .attr("font-size", 16).attr("fill", "#111").text("Time");
  g.append("text").attr("transform", `translate(14.5,${p.top + boxH / 2}) rotate(-90)`).attr("text-anchor", "middle")
    .attr("font-size", 16).attr("fill", "#111").text("Glucose (mmol/l)");
  g.append("text").attr("x", 421).attr("y", p.top - 16.5).attr("text-anchor", "middle")
    .attr("font-size", 16).attr("font-weight", "bold").attr("fill", "#111").text(p.title);
  g.append("text").attr("x", 4).attr("y", p.top - 15).attr("font-size", 14).attr("fill", "#111").text(p.label);
});
</script>
</body></html>
